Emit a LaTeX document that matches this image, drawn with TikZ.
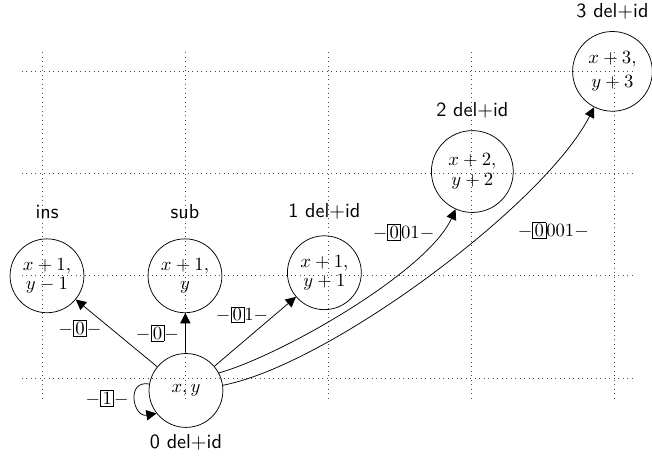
\documentclass[tikz,border=0pt]{standalone}
\usepackage{amsmath}
\usetikzlibrary{arrows.meta, positioning}
\setlength{\fboxsep}{0.8pt}
\newcommand{\keptdig}[1]{\fbox{$#1$}}

\begin{document}
\begin{tikzpicture}[x=2.69cm, y=1.923cm, >={Triangle[length=5.5pt, width=5.5pt]}]
  \tikzstyle{cell} = [circle, draw, minimum size=1.39cm, inner sep=1pt, align=center, font=\fontsize{10}{10.5}\selectfont]
  \tikzstyle{opname} = [font=\sffamily\fontsize{10.8}{13}\selectfont]
  \tikzstyle{gridline} = [dotted, black!70]

  \useasboundingbox (-0.79cm,-1.486cm) rectangle (11.477cm,7.112cm);

  % background grid
  \foreach \i in {0,...,4} \draw[gridline] (\i,-0.2) -- (\i,3.2);
  \foreach \j in {0,...,3} \draw[gridline] (-0.14,\j) -- (4.14,\j);

  \node [cell, label={[opname]below:0 del+id}] (start) at (1.007,-0.122) {$x, y$};
  \node [cell, label={[opname, label distance=7pt]above:ins}] (ins) at (0.035,1) {$x+1,$\\$y-1$};
  \node [cell, label={[opname, label distance=7pt]above:sub}] (sub) at (1,1) {$x+1,$\\$y$};
  \node [cell, label={[opname, label distance=5pt]above:1 del+id}] (del1) at (1.975,1.03) {$x+1,$\\$y+1$};
  \node [cell, minimum size=1.54cm, label={[opname, label distance=3pt]above:2 del+id}] (del2) at (3.01,2.02) {$x+2,$\\$y+2$};
  \node [cell, minimum size=1.5cm, label={[opname, label distance=3pt]above:3 del+id}] (del3) at (3.99,3) {$x+3,$\\[2pt]$y+3$};

  \draw[->] (start.170) .. controls +(170:0.45cm) and +(190:0.45cm) .. node[left] {$-$\keptdig{1}$-$} (start.218);
  \draw[->] (start) -- node[pos=0.57, left=1.5pt] {$-$\keptdig{0}$-$} (ins);
  \draw[->] (start) -- node[left] {$-$\keptdig{0}$-$} (sub);
  \draw[->] (start) -- node[midway, above=1pt, xshift=-7pt] {$-$\keptdig{0}$1-$} (del1);
  \draw[->] (start.28) to[out=16, in=246, looseness=0.6] node[pos=0.88, left] {$-$\keptdig{0}$01-$} (del2);
  \draw[->] (start.8) to[out=11, in=243, looseness=0.6] node[pos=0.63, right=14pt] {$-$\keptdig{0}$001-$} (del3);
\end{tikzpicture}
\end{document}
